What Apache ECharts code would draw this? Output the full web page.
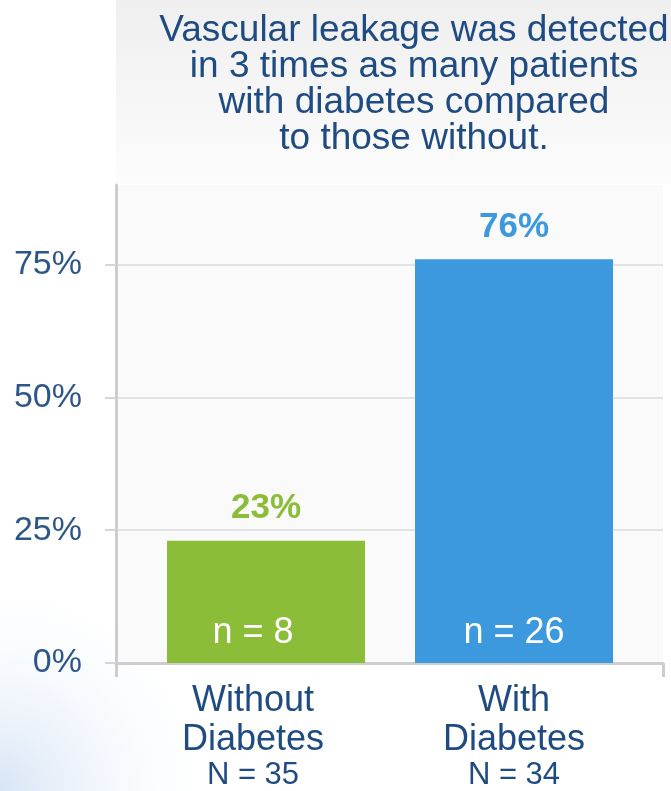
<!DOCTYPE html>
<html>
<head>
<meta charset="utf-8">
<script src="https://cdn.jsdelivr.net/npm/echarts@6/dist/echarts.min.js"></script>
<style>
  html, body { margin: 0; padding: 0; background: #ffffff; }
  #chart { width: 671px; height: 791px; }
</style>
</head>
<body>
<div id="chart"></div>
<script>
// Share of patients with detected vascular leakage
const categories = ['Without\nDiabetes', 'With\nDiabetes'];
const groupTotals = [35, 34];          // N per group
const leakageCounts = [8, 26];         // n with leakage
const leakagePct = [23, 76];           // % with leakage
const barColors = ['#8cbd38', '#3c99de'];
const yTicks = [0, 25, 50, 75];

const titleText = 'Vascular leakage was detected\nin 3 times as many patients\nwith diabetes compared\nto those without.';

const FONT = '"Liberation Sans", Arial, sans-serif';
const NAVY = '#1f4b83';
const Y_MAX = 90;

const chart = echarts.init(document.getElementById('chart'), null, { renderer: 'canvas' });

const option = {
  backgroundColor: '#ffffff',
  animation: false,
  textStyle: { fontFamily: FONT },
  graphic: [
    {
      type: 'rect', z: -10, silent: true,
      shape: { x: 116, y: 0, width: 555, height: 184 },
      style: {
        fill: new echarts.graphic.LinearGradient(0, 0, 0, 1, [
          { offset: 0, color: '#efefef' },
          { offset: 1, color: '#fcfcfc' }
        ])
      }
    },
    {
      type: 'rect', z: -10, silent: true,
      shape: { x: 0, y: 520, width: 300, height: 271 },
      style: {
        fill: new echarts.graphic.RadialGradient(0, 1, 0.85, [
          { offset: 0, color: 'rgba(175,203,236,0.5)' },
          { offset: 0.5, color: 'rgba(215,228,246,0.25)' },
          { offset: 1, color: 'rgba(255,255,255,0)' }
        ])
      }
    }
  ],
  title: {
    text: titleText,
    left: 409,
    top: 8,
    textAlign: 'center',
    textStyle: {
      fontFamily: FONT,
      fontSize: 37,
      fontWeight: 'normal',
      color: NAVY,
      lineHeight: 36
    }
  },
  grid: [
    // frame: panel, gridlines and axes
    { left: 116, right: 8, top: 185, bottom: 128, show: true, backgroundColor: '#fafafa', borderWidth: 0 },
    // bars
    { left: 142, right: 33, top: 185, bottom: 128 }
  ],
  xAxis: [
    {
      gridIndex: 0,
      type: 'category',
      data: categories,
      axisLine: { show: true, lineStyle: { color: '#cdcdcd', width: 3 } },
      axisTick: { show: true, length: 14, interval: function (i) { return i === 0; }, lineStyle: { color: '#cdcdcd', width: 3 } },
      axisLabel: { show: false },
      splitLine: { show: false }
    },
    {
      gridIndex: 1,
      type: 'category',
      data: categories,
      axisLine: { show: false },
      axisTick: { show: false },
      axisLabel: {
        margin: 19,
        interval: 0,
        formatter: function (value, idx) {
          const lines = value.split('\n');
          const s = idx === 0 ? '0' : '';
          return '{a' + s + '|' + lines[0] + '}\n{a' + s + '|' + lines[1] + '}\n{b' + s + '|N = ' + groupTotals[idx] + '}';
        },
        rich: {
          a: { fontFamily: FONT, fontSize: 36, lineHeight: 39, color: NAVY },
          b: { fontFamily: FONT, fontSize: 31, lineHeight: 31, color: NAVY },
          a0: { fontFamily: FONT, fontSize: 36, lineHeight: 39, color: NAVY, padding: [0, 26, 0, 0] },
          b0: { fontFamily: FONT, fontSize: 31, lineHeight: 31, color: NAVY, padding: [0, 26, 0, 0] }
        }
      }
    }
  ],
  yAxis: [
    {
      gridIndex: 0,
      type: 'value',
      min: 0,
      max: Y_MAX,
      interval: 25,
      axisLine: { show: true, lineStyle: { color: '#cdcdcd', width: 3 } },
      axisTick: { show: true, length: 11, lineStyle: { color: '#d6d6d6', width: 2 } },
      axisLabel: {
        margin: 34,
        showMaxLabel: false,
        fontFamily: FONT,
        fontSize: 34,
        color: '#2c5688',
        formatter: function (v) { return yTicks.indexOf(v) >= 0 ? v + '%' : ''; }
      },
      splitLine: { show: true, showMaxLine: false, showMinLine: false, lineStyle: { color: '#e3e3e3', width: 2 } }
    },
    {
      gridIndex: 1,
      type: 'value',
      min: 0,
      max: Y_MAX,
      show: false,
      splitLine: { show: false }
    }
  ],
  series: [
    {
      name: 'Leakage',
      type: 'bar',
      xAxisIndex: 1,
      yAxisIndex: 1,
      barWidth: 198,
      data: leakagePct.map(function (v, i) {
        return { value: v, itemStyle: { color: barColors[i] }, label: { color: barColors[i] } };
      }),
      label: {
        show: true,
        position: 'top',
        distance: 15,
        fontFamily: FONT,
        fontSize: 35,
        fontWeight: 'bold',
        formatter: function (p) { return p.value + '%'; }
      }
    },
    {
      name: 'Count',
      type: 'bar',
      xAxisIndex: 1,
      yAxisIndex: 1,
      barWidth: 198,
      barGap: '-100%',
      silent: true,
      data: leakagePct.map(function (v, i) {
        return { value: v, label: { offset: [i === 0 ? -13 : 0, 0] } };
      }),
      itemStyle: { color: 'rgba(0,0,0,0)' },
      label: {
        show: true,
        position: 'insideBottom',
        distance: 12,
        fontFamily: FONT,
        fontSize: 36,
        color: '#ffffff',
        formatter: function (p) { return 'n = ' + leakageCounts[p.dataIndex]; }
      }
    }
  ]
};

chart.setOption(option);
</script>
</body>
</html>
